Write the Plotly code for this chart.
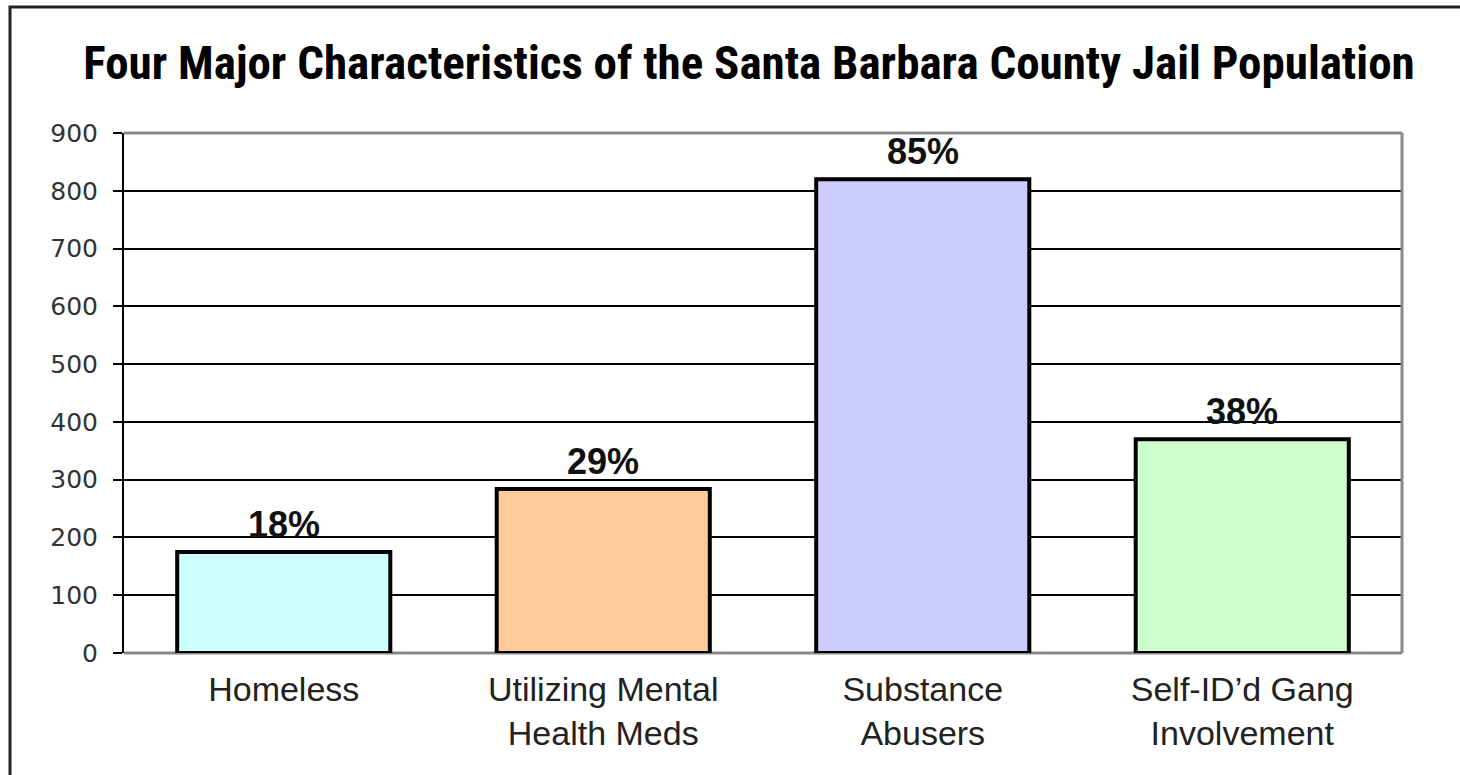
import plotly.graph_objects as go

categories = ["Homeless", "Utilizing Mental<br>Health Meds", "Substance<br>Abusers", "Self-ID’d Gang<br>Involvement"]
values = [175, 284, 820, 370]
pct_labels = ["18%", "29%", "85%", "38%"]
bar_colors = ["#CCFFFF", "#FFCC99", "#CCCCFF", "#CCFFCC"]
y_ticks = [0, 100, 200, 300, 400, 500, 600, 700, 800, 900]

W, H = 1460, 775
L, R, T, B = 124, 58, 133, 122
pw, ph = W - L - R, H - T - B

fig = go.Figure()
fig.add_trace(go.Bar(
    x=categories, y=values,
    marker=dict(color=bar_colors, line=dict(color="#000", width=4)),
    hoverinfo="skip",
))

for c, v, t in zip(categories, values, pct_labels):
    fig.add_annotation(x=c, y=v, text="<b>" + t + "</b>", showarrow=False,
                       yanchor="bottom", yshift=5,
                       font=dict(family="Liberation Sans, Arial, sans-serif", size=36, color="#111"))

def px2paper_x(p):
    return (p - L) / pw

def px2paper_y(p):
    return (H - B - p) / ph

fig.update_layout(
    width=W, height=H,
    margin=dict(l=L, r=R, t=T, b=B),
    paper_bgcolor="white", plot_bgcolor="white",
    bargap=0.333, showlegend=False,
    title=dict(text="<b>Four Major Characteristics of the Santa Barbara County Jail Population</b>",
               x=749 / W, xanchor="center", y=1 - 63 / H, yanchor="middle",
               font=dict(family="Liberation Sans Narrow, Roboto Condensed, DejaVu Sans Condensed, sans-serif",
                         size=47, color="#000")),
    xaxis=dict(showgrid=False, showline=False, zeroline=False,
               ticks="outside", ticklen=6, tickcolor="rgba(0,0,0,0)",
               tickfont=dict(family="Liberation Sans, Arial, sans-serif", size=34, color="#222")),
    yaxis=dict(range=[0, 900], tickvals=y_ticks, showgrid=True, gridcolor="#000", gridwidth=2,
               zeroline=False, showline=True, linecolor="#000", linewidth=2,
               ticks="outside", ticklen=9, tickwidth=2, tickcolor="#000", ticklabelstandoff=10,
               tickfont=dict(family="DejaVu Sans, Verdana, sans-serif", size=25, color="#333")),
    shapes=[
        dict(type="line", xref="paper", yref="paper", x0=0, x1=1, y0=1, y1=1,
             line=dict(color="#888", width=3), layer="above"),
        dict(type="line", xref="paper", yref="paper", x0=1, x1=1, y0=0, y1=1,
             line=dict(color="#888", width=3), layer="above"),
        dict(type="line", xref="paper", yref="paper", x0=0, x1=1, y0=0, y1=0,
             line=dict(color="#888", width=3), layer="below"),
        dict(type="rect", xref="paper", yref="paper",
             x0=px2paper_x(10), x1=px2paper_x(1475), y0=px2paper_y(790), y1=px2paper_y(7),
             line=dict(color="#222", width=3), layer="above"),
    ],
)

fig.write_html("out.html", config={"displayModeBar": False},
               post_script="document.body.style.margin='0';")
